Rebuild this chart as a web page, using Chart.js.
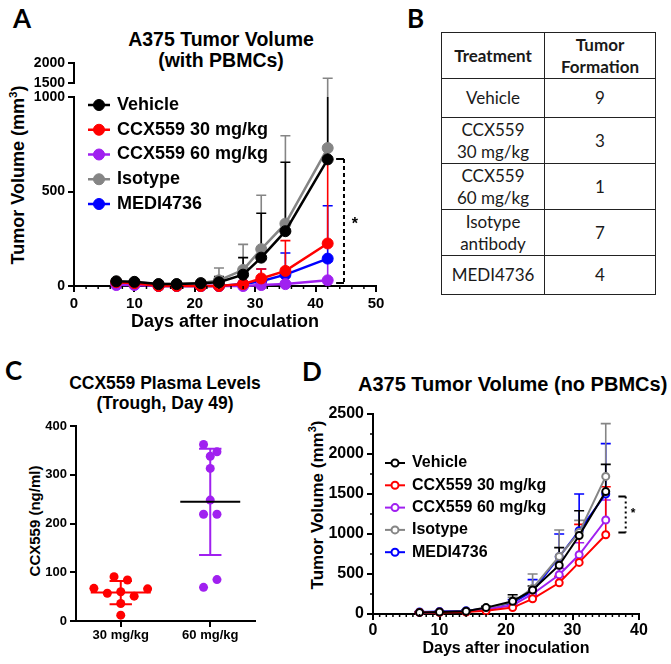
<!DOCTYPE html>
<html>
<head>
<meta charset="utf-8">
<title>A375 tumor volume and CCX559 plasma levels</title>
<script src="https://cdn.jsdelivr.net/npm/chart.js@4.4.1/dist/chart.umd.min.js"></script>
<style>
  body { margin: 0; background: #fff; }
  #page { position: relative; width: 671px; height: 664px; overflow: hidden; font-family: 'Liberation Sans', Arial, sans-serif; color: #000; }
  #page canvas { position: absolute; }
  .letter { position: absolute; font-family: Lato, sans-serif; font-weight: 700; font-size: 26px; line-height: 26px; }
  .title { position: absolute; font-weight: 700; text-align: center; white-space: nowrap; }
  .ytitle { position: absolute; font-weight: 700; white-space: nowrap; transform: translate(-50%, -50%) rotate(-90deg); }
  .ytitle sup { font-size: 0.65em; line-height: 0; }
  #tableB { position: absolute; left: 441px; top: 32px; border-collapse: collapse; font-family: Lato, sans-serif; font-size: 17px; color: #1a1a1a; }
  #tableB td, #tableB th { border: 1.5px solid #222; text-align: center; padding: 0; line-height: 21.5px; }
  #tableB th { font-weight: 700; }
</style>
</head>
<body>
<div id="page">
  <div class="letter" style="left:13px;top:5px">A</div>
  <div class="letter" style="left:407px;top:5px">B</div>
  <div class="letter" style="left:5px;top:357px">C</div>
  <div class="letter" style="left:302px;top:358px">D</div>

  <div class="title" style="left:100px;top:29px;width:242px;font-size:19.5px;line-height:20.5px">A375 Tumor Volume<br>(with PBMCs)</div>
  <div class="title" style="left:65px;top:373px;width:200px;font-size:17.5px;line-height:20px">CCX559 Plasma Levels<br>(Trough, Day 49)</div>
  <div class="title" style="left:358px;top:373px;width:300px;font-size:20px;line-height:22px">A375 Tumor Volume (no PBMCs)</div>

  <div class="ytitle" style="left:18px;top:175px;font-size:18px">Tumor Volume (mm<sup>3</sup>)</div>
  <div class="ytitle" style="left:34px;top:521px;font-size:15px">CCX559 (ng/ml)</div>
  <div class="ytitle" style="left:318px;top:505px;font-size:17px">Tumor Volume (mm<sup>3</sup>)</div>

  <canvas id="chartA" width="400" height="340" style="left:0;top:0"></canvas>
  <canvas id="chartC" width="300" height="334" style="left:0;top:330px"></canvas>
  <canvas id="chartD" width="371" height="334" style="left:300px;top:330px"></canvas>

  <table id="tableB">
    <tr style="height:46px"><th style="width:102px">Treatment</th><th style="width:110px">Tumor<br>Formation</th></tr>
    <tr style="height:39px"><td>Vehicle</td><td>9</td></tr>
    <tr style="height:46px"><td>CCX559<br>30&nbsp;mg/kg</td><td>3</td></tr>
    <tr style="height:46px"><td>CCX559<br>60&nbsp;mg/kg</td><td>1</td></tr>
    <tr style="height:46px"><td>Isotype<br>antibody</td><td>7</td></tr>
    <tr style="height:39px"><td>MEDI4736</td><td>4</td></tr>
  </table>
</div>

<script>
const FONT = "'Liberation Sans', Arial, sans-serif";

// series shared by A and D
const seriesNames = ['Vehicle', 'CCX559 30 mg/kg', 'CCX559 60 mg/kg', 'Isotype', 'MEDI4736'];
const seriesColors = ['#000000', '#ff0000', '#a020f0', '#858585', '#0000ff'];

// A: with PBMCs (mean, upper SD)
const daysA = [7, 10, 14, 17, 21, 24, 28, 31, 35, 42];
const vehicleA = [25, 22, 10, 10, 15, 20, 60, 150, 290, 670];
const ccx30A = [20, 15, 0, 0, 0, 0, 10, 40, 80, 225];
const ccx60A = [5, 5, 0, 0, 0, 0, 0, 5, 10, 30];
const isotypeA = [20, 20, 10, 10, 15, 30, 85, 195, 330, 730];
const mediA = [15, 10, 0, 0, 0, 0, 10, 25, 60, 145];
const vehicleSdA = [5, 5, 3, 3, 5, 30, 90, 235, 365, 530];
const ccx30SdA = [3, 3, 2, 2, 2, 2, 10, 50, 160, 445];
const ccx60SdA = [2, 2, 1, 1, 1, 1, 2, 5, 10, 100];
const isotypeSdA = [5, 5, 3, 3, 5, 65, 135, 285, 465, 890];
const mediSdA = [3, 3, 2, 2, 2, 2, 10, 65, 115, 280];
const yTicksA = [0, 500, 1000];
const yTicksTopA = [1500, 2000];
const xTicksA = [0, 10, 20, 30, 40, 50];

// C: plasma levels
const doseLabels = ['30 mg/kg', '60 mg/kg'];
const plasma30 = [91, 84, 67, 57, 60, 51, 66, 36, 12];
const plasma60 = [362, 347, 338, 313, 248, 219, 219, 69, 85];
const yTicksC = [0, 100, 200, 300, 400];

// D: no PBMCs (mean, upper SD)
const daysD = [7, 10, 14, 17, 21, 24, 28, 31, 35];
const vehicleD = [20, 25, 35, 80, 160, 300, 610, 980, 1530];
const ccx30D = [20, 20, 25, 40, 80, 190, 390, 645, 990];
const ccx60D = [20, 25, 30, 55, 110, 250, 490, 740, 1175];
const isotypeD = [20, 25, 35, 70, 150, 320, 720, 1020, 1720];
const mediD = [25, 30, 40, 70, 140, 285, 715, 1040, 1500];
const vehicleSdD = [5, 5, 8, 15, 80, 50, 220, 310, 340];
const ccx30SdD = [3, 3, 5, 10, 20, 30, 80, 475, 600];
const ccx60SdD = [3, 3, 5, 10, 20, 40, 80, 150, 250];
const isotypeSdD = [5, 5, 8, 15, 60, 180, 330, 150, 660];
const mediSdD = [5, 5, 8, 15, 40, 145, 285, 460, 630];
const yTicksD = [0, 500, 1000, 1500, 2000, 2500];
const xTicksD = [0, 10, 20, 30, 40];

function lineSets(days, means, sds, open) {
  return means.map((m, k) => ({
    label: seriesNames[k],
    data: days.map((d, i) => ({ x: d, y: m[i] })),
    sd: sds[k],
    borderColor: seriesColors[k],
    backgroundColor: seriesColors[k],
    pointBackgroundColor: open ? '#ffffff' : seriesColors[k],
    pointBorderColor: seriesColors[k],
    borderWidth: open ? 2 : 2.5,
    pointRadius: open ? 3.5 : 5.5,
    pointBorderWidth: open ? 2 : 1,
    pointHoverRadius: open ? 3.5 : 5.5,
    tension: 0,
    clip: false
  }));
}

function axis(size, ticks) {
  return {
    type: 'linear',
    border: { display: true, color: '#000', width: 2 },
    grid: { display: true, drawOnChartArea: false, tickLength: 6, lineWidth: 2, color: '#000' },
    ticks: { color: '#000', font: { family: FONT, size: size, weight: 'bold' }, padding: 3, callback: (v) => String(v) },
    afterBuildTicks: (s) => { s.ticks = ticks.map(v => ({ value: v })); }
  };
}

function errorBars(toPixel) {
  return {
    id: 'errorBars',
    beforeDatasetsDraw(chart) {
      const ctx = chart.ctx;
      ctx.save();
      ctx.lineWidth = 1.6;
      for (let d = chart.data.datasets.length - 1; d >= 0; d--) {
        const ds = chart.data.datasets[d];
        const meta = chart.getDatasetMeta(d);
        ctx.strokeStyle = ds.borderColor;
        meta.data.forEach((pt, i) => {
          const hi = toPixel(chart, ds.data[i].y + ds.sd[i]);
          ctx.beginPath();
          ctx.moveTo(pt.x, pt.y);
          ctx.lineTo(pt.x, hi.y);
          if (hi.cap) {
            ctx.moveTo(pt.x - 5, hi.y);
            ctx.lineTo(pt.x + 5, hi.y);
          }
          ctx.stroke();
        });
      }
      ctx.restore();
    }
  };
}

function insideLegend(o) {
  return {
    id: 'insideLegend',
    afterDatasetsDraw(chart) {
      const ctx = chart.ctx;
      ctx.save();
      ctx.font = 'bold ' + o.size + 'px ' + FONT;
      ctx.textBaseline = 'middle';
      chart.data.datasets.forEach((ds, k) => {
        const y = o.top + k * o.gap;
        ctx.strokeStyle = ds.borderColor;
        ctx.lineWidth = ds.borderWidth;
        ctx.beginPath();
        ctx.moveTo(o.left, y);
        ctx.lineTo(o.left + o.len, y);
        ctx.stroke();
        ctx.beginPath();
        ctx.arc(o.left + o.len / 2, y, ds.pointRadius, 0, Math.PI * 2);
        ctx.fillStyle = ds.pointBackgroundColor;
        ctx.fill();
        ctx.lineWidth = ds.pointBorderWidth;
        ctx.stroke();
        ctx.fillStyle = '#000';
        ctx.fillText(ds.label, o.left + o.len + o.textGap, y);
      });
      ctx.restore();
    }
  };
}

function bracket(o) {
  return {
    id: 'bracket',
    afterDatasetsDraw(chart) {
      const ctx = chart.ctx, xs = chart.scales.x, ys = chart.scales.y;
      const x = xs.getPixelForValue(o.x), xt = xs.getPixelForValue(o.xTick);
      const y1 = ys.getPixelForValue(o.top), y2 = ys.getPixelForValue(o.bottom);
      ctx.save();
      ctx.strokeStyle = '#000';
      ctx.lineWidth = 2;
      ctx.setLineDash(o.dash);
      ctx.beginPath();
      ctx.moveTo(x, y1);
      ctx.lineTo(x, y2);
      ctx.stroke();
      ctx.setLineDash([]);
      ctx.beginPath();
      ctx.moveTo(xt, y1); ctx.lineTo(x, y1);
      ctx.moveTo(xt, y2); ctx.lineTo(x, y2);
      ctx.stroke();
      ctx.fillStyle = '#000';
      ctx.font = 'bold ' + o.starSize + 'px ' + FONT;
      ctx.textAlign = 'center';
      ctx.textBaseline = 'middle';
      ctx.fillText('*', xs.getPixelForValue(o.starX), ys.getPixelForValue(o.starY));
      ctx.restore();
    }
  };
}

function minorTicks(list) {
  return {
    id: 'minorTicks',
    afterDraw(chart) {
      const ctx = chart.ctx, area = chart.chartArea;
      ctx.save();
      ctx.strokeStyle = '#000';
      ctx.lineWidth = 1.5;
      list.forEach(m => {
        const s = chart.scales[m.axis];
        for (let v = s.min + m.step; v < s.max; v += m.step) {
          if (v % m.major === 0) continue;
          const p = s.getPixelForValue(v);
          ctx.beginPath();
          if (s.isHorizontal()) { ctx.moveTo(p, area.bottom); ctx.lineTo(p, area.bottom + m.len); }
          else { ctx.moveTo(area.left - m.len, p); ctx.lineTo(area.left, p); }
          ctx.stroke();
        }
      });
      ctx.restore();
    }
  };
}

const baseOptions = {
  responsive: false,
  animation: false,
  events: [],
  plugins: { legend: { display: false }, tooltip: { enabled: false } }
};

// ---------- A ----------
const xA = axis(15, xTicksA);
xA.min = 0; xA.max = 50;
xA.ticks.padding = 3;
xA.title = { display: true, text: 'Days after inoculation', color: '#000', font: { family: FONT, size: 18, weight: 'bold' }, padding: { top: 0, bottom: 7 } };
xA.afterFit = (s) => { s.height = 54; };

const yA = axis(14, yTicksA);
Object.assign(yA, { position: 'left', stack: 'a', stackWeight: 189, min: 0, max: 1000, afterFit: (s) => { s.width = 74; } });

const yTopA = axis(14, yTicksTopA);
Object.assign(yTopA, { axis: 'y', position: 'left', stack: 'a', stackWeight: 34, min: 1150, max: 2000, afterFit: (s) => { s.width = 74; } });
yTopA.border = { display: false };

function brokenY(chart, v) {
  const lo = chart.scales.y, hi = chart.scales.yTop;
  if (v <= lo.max) return { y: lo.getPixelForValue(v), cap: true };
  if (v < yTicksTopA[0]) return { y: lo.getPixelForValue(lo.max), cap: false };
  return { y: hi.getPixelForValue(v), cap: true };
}

const topSegment = {
  id: 'topSegment',
  afterDraw(chart) {
    const s = chart.scales.yTop, ctx = chart.ctx;
    ctx.save();
    ctx.strokeStyle = '#000';
    ctx.lineWidth = 2;
    ctx.beginPath();
    ctx.moveTo(s.right, s.getPixelForValue(yTicksTopA[0]) + 1);
    ctx.lineTo(s.right, s.getPixelForValue(yTicksTopA[yTicksTopA.length - 1]) - 1);
    ctx.stroke();
    ctx.restore();
  }
};

new Chart(document.getElementById('chartA'), {
  type: 'line',
  data: { datasets: lineSets(daysA, [vehicleA, ccx30A, ccx60A, isotypeA, mediA], [vehicleSdA, ccx30SdA, ccx60SdA, isotypeSdA, mediSdA], false) },
  options: Object.assign({}, baseOptions, {
    layout: { padding: { left: 0, top: 63, right: 24, bottom: 0 }, autoPadding: false },
    scales: { x: xA, y: yA, yTop: yTopA }
  }),
  plugins: [
    errorBars(brokenY),
    topSegment,
    minorTicks([{ axis: 'x', step: 2, major: 10, len: 3 }]),
    insideLegend({ left: 88, top: 105, gap: 24.75, len: 22, textGap: 7, size: 18 }),
    bracket({ x: 44.7, xTick: 43.4, top: 672, bottom: 16, dash: [4, 3], starX: 46.5, starY: 325, starSize: 16 })
  ]
});

// ---------- C ----------
const groupCenters = [1, 3];
const mean = a => a.reduce((s, v) => s + v, 0) / a.length;
const sdev = a => { const m = mean(a); return Math.sqrt(a.reduce((s, v) => s + (v - m) * (v - m), 0) / (a.length - 1)); };

// scatter-dot layout: points whose values lie within one symbol height share a row
function swarm(values, center, rowSpan, step) {
  const order = values.map((v, i) => i).sort((a, b) => values[b] - values[a]);
  const pts = new Array(values.length);
  let k = 0;
  while (k < order.length) {
    const row = [order[k]];
    let j = k + 1;
    while (j < order.length && values[order[k]] - values[order[j]] < rowSpan) { row.push(order[j]); j++; }
    row.sort((a, b) => a - b);
    row.forEach((idx, n) => { pts[idx] = { x: center + (n - (row.length - 1) / 2) * step, y: values[idx] }; });
    k = j;
  }
  return pts;
}

const groupsC = [plasma30, plasma60];
const pointColorsC = ['#ff0000', '#a020f0'];
const meanColorsC = ['#ff0000', '#000000'];

const xC = axis(13, groupCenters);
Object.assign(xC, { min: 0, max: 4, afterFit: (s) => { s.height = 43; } });
xC.ticks.padding = 1;
xC.ticks.callback = (v) => doseLabels[groupCenters.indexOf(v)];
const yC = axis(13, yTicksC);
Object.assign(yC, { min: 0, max: 400, afterFit: (s) => { s.width = 76; } });

const summaryC = {
  id: 'summaryC',
  afterDatasetsDraw(chart) {
    const ctx = chart.ctx, xs = chart.scales.x, ys = chart.scales.y;
    ctx.save();
    ctx.lineWidth = 2;
    groupsC.forEach((vals, g) => {
      const c = groupCenters[g], m = mean(vals), s = sdev(vals);
      const px = xs.getPixelForValue(c);
      ctx.strokeStyle = pointColorsC[g];
      ctx.beginPath();
      ctx.moveTo(px, ys.getPixelForValue(m - s));
      ctx.lineTo(px, ys.getPixelForValue(m + s));
      [m - s, m + s].forEach(v => {
        ctx.moveTo(xs.getPixelForValue(c - 0.25), ys.getPixelForValue(v));
        ctx.lineTo(xs.getPixelForValue(c + 0.25), ys.getPixelForValue(v));
      });
      ctx.stroke();
      ctx.strokeStyle = meanColorsC[g];
      ctx.beginPath();
      ctx.moveTo(xs.getPixelForValue(c - 0.67), ys.getPixelForValue(m));
      ctx.lineTo(xs.getPixelForValue(c + 0.67), ys.getPixelForValue(m));
      ctx.stroke();
    });
    ctx.restore();
  }
};

new Chart(document.getElementById('chartC'), {
  type: 'scatter',
  data: {
    datasets: groupsC.map((vals, g) => ({
      label: doseLabels[g],
      data: swarm(vals, groupCenters[g], 18.5, 0.3),
      pointBackgroundColor: pointColorsC[g],
      pointBorderWidth: 0,
      pointRadius: 4.5,
      pointHoverRadius: 4.5,
      clip: false
    }))
  },
  options: Object.assign({}, baseOptions, {
    layout: { padding: { left: 0, top: 96, right: 45, bottom: 0 }, autoPadding: false },
    scales: { x: xC, y: yC }
  }),
  plugins: [summaryC]
});

// ---------- D ----------
const xD = axis(16, xTicksD);
Object.assign(xD, { min: 0, max: 40, afterFit: (s) => { s.height = 50; } });
xD.ticks.padding = 1;
xD.title = { display: true, text: 'Days after inoculation', color: '#000', font: { family: FONT, size: 16, weight: 'bold' }, padding: { top: 0, bottom: 6 } };
const yD = axis(16, yTicksD);
Object.assign(yD, { min: 0, max: 2500, afterFit: (s) => { s.width = 73; } });

new Chart(document.getElementById('chartD'), {
  type: 'line',
  data: { datasets: lineSets(daysD, [vehicleD, ccx30D, ccx60D, isotypeD, mediD], [vehicleSdD, ccx30SdD, ccx60SdD, isotypeSdD, mediSdD], true) },
  options: Object.assign({}, baseOptions, {
    layout: { padding: { left: 0, top: 84, right: 32, bottom: 0 }, autoPadding: false },
    scales: { x: xD, y: yD }
  }),
  plugins: [
    errorBars((chart, v) => ({ y: chart.scales.y.getPixelForValue(v), cap: true })),
    minorTicks([{ axis: 'x', step: 1, major: 10, len: 3 }, { axis: 'y', step: 250, major: 500, len: 3 }]),
    insideLegend({ left: 85, top: 133, gap: 22.3, len: 20, textGap: 7, size: 16 }),
    bracket({ x: 38.0, xTick: 36.9, top: 1470, bottom: 1020, dash: [2, 3], starX: 39.1, starY: 1250, starSize: 12 })
  ]
});
</script>
</body>
</html>
